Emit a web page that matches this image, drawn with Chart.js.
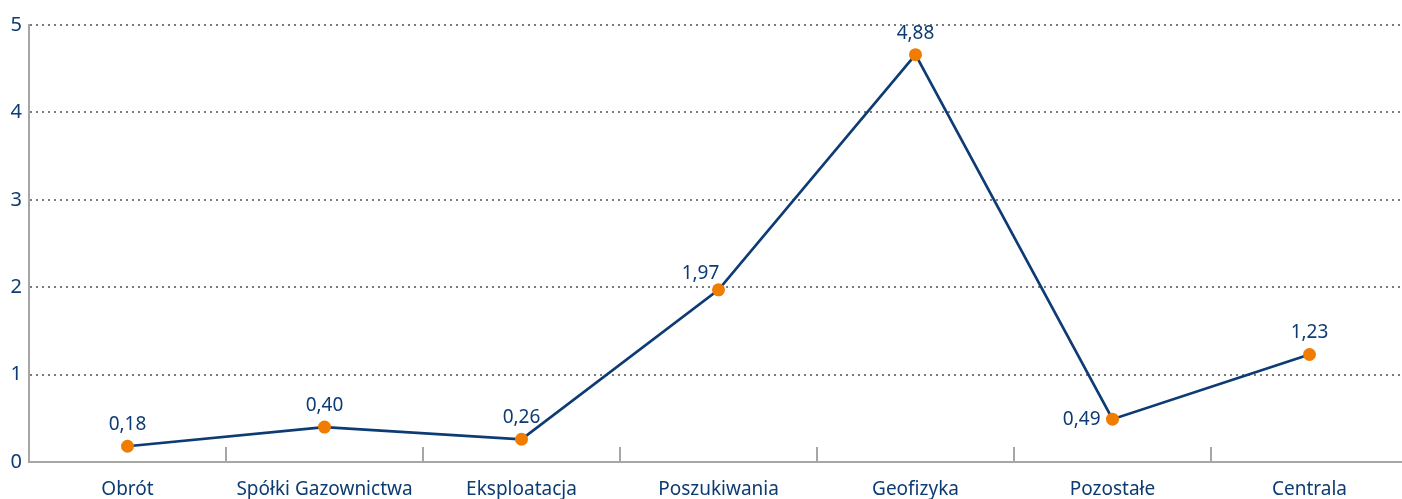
<!DOCTYPE html>
<html>
<head>
<meta charset="utf-8">
<script src="https://cdn.jsdelivr.net/npm/chart.js@4"></script>
<style>
    html, body { margin: 0; padding: 0; background: #fff; overflow: hidden; }
    #wrap { width: 1402px; height: 499px; }
    canvas { display: block; }
</style>
</head>
<body>
<div id="wrap"><canvas id="chart" width="1402" height="499"></canvas></div>
<script>
// dane
const categories = ['Obrót', 'Spółki Gazownictwa', 'Eksploatacja', 'Poszukiwania', 'Geofizyka', 'Pozostałe', 'Centrala'];
// wysokość punktów tak jak na rysunku (Geofizyka narysowana ok. 4,66)
const values = [0.18, 0.40, 0.26, 1.97, 4.66, 0.49, 1.23];
// etykiety wartości wydrukowane na wykresie
const valueLabels = ['0,18', '0,40', '0,26', '1,97', '4,88', '0,49', '1,23'];
const yTicks = [0, 1, 2, 3, 4, 5];

const navy = '#0d3b73';
const orange = '#f07d00';
const axisGrey = '#a6a6a6';

// obszar wykresu sięga do prawej krawędzi (i trochę za nią)
const stretchRightPlugin = {
    id: 'stretchRight',
    afterLayout(chart) {
        const right = chart.width + 6;
        chart.chartArea.right = right;
        chart.chartArea.width = right - chart.chartArea.left;
        const x = chart.scales.x;
        x.right = right;
        x.width = right - x.left;
        x.configure();
    }
};

// etykiety wartości przy punktach
const valueLabelPlugin = {
    id: 'valueLabels',
    afterDatasetsDraw(chart) {
        const ctx = chart.ctx;
        const meta = chart.getDatasetMeta(0);
        ctx.save();
        ctx.font = '19px "Noto Sans"';
        ctx.fillStyle = navy;
        meta.data.forEach((pt, i) => {
            const place = chart.options.plugins.valueLabels.place[i] || 'top';
            if (place === 'left') {
                ctx.textAlign = 'right';
                ctx.textBaseline = 'middle';
                ctx.fillText(valueLabels[i], pt.x - 12, pt.y);
            } else if (place === 'topLeft') {
                ctx.textAlign = 'center';
                ctx.textBaseline = 'bottom';
                ctx.fillText(valueLabels[i], pt.x - 18, pt.y - 7);
            } else {
                ctx.textAlign = 'center';
                ctx.textBaseline = 'bottom';
                ctx.fillText(valueLabels[i], pt.x, pt.y - 12);
            }
        });
        ctx.restore();
    }
};

// krótkie kreski między kategoriami, skierowane do góry
const categoryTicksPlugin = {
    id: 'categoryTicks',
    beforeDatasetsDraw(chart) {
        const x = chart.scales.x;
        const bottom = chart.chartArea.bottom;
        const ctx = chart.ctx;
        ctx.save();
        ctx.strokeStyle = axisGrey;
        ctx.lineWidth = 2;
        for (let i = 0; i < categories.length - 1; i++) {
            const px = Math.round((x.getPixelForValue(i) + x.getPixelForValue(i + 1)) / 2);
            ctx.beginPath();
            ctx.moveTo(px, bottom);
            ctx.lineTo(px, bottom - 15);
            ctx.stroke();
        }
        ctx.restore();
    }
};

const ctx = document.getElementById('chart').getContext('2d');
new Chart(ctx, {
    type: 'line',
    data: {
        labels: categories,
        datasets: [{
            data: values,
            borderColor: navy,
            borderWidth: 2.7,
            pointRadius: 6.5,
            pointHoverRadius: 6.5,
            pointBackgroundColor: orange,
            pointBorderWidth: 0,
            tension: 0,
            clip: false
        }]
    },
    options: {
        responsive: false,
        animation: false,
        layout: {
            padding: { top: 25, right: 0, left: 0, bottom: 0 }
        },
        scales: {
            x: {
                offset: true,
                afterFit(scale) {
                    scale.paddingRight = 0;
                    scale.paddingLeft = 0;
                    scale.height = 37;
                },
                grid: { display: false, drawTicks: false },
                border: { display: true, color: axisGrey, width: 2 },
                ticks: {
                    color: navy,
                    padding: 16,
                    font: { family: 'Noto Sans', size: 19 },
                    maxRotation: 0,
                    autoSkip: false
                }
            },
            y: {
                min: 0,
                max: 5,
                afterFit(scale) { scale.width = 29; },
                afterBuildTicks(scale) { scale.ticks = yTicks.map(v => ({ value: v })); },
                grid: {
                    color: '#7a7a7a',
                    lineWidth: 2,
                    drawTicks: false
                },
                border: { display: true, color: axisGrey, width: 2, dash: [2, 4] },
                ticks: {
                    color: navy,
                    padding: 7,
                    font: { family: 'Noto Sans', size: 20 },
                    callback: v => String(v)
                }
            }
        },
        plugins: {
            legend: { display: false },
            tooltip: { enabled: false },
            valueLabels: { place: { 3: 'topLeft', 5: 'left' } }
        }
    },
    plugins: [stretchRightPlugin, categoryTicksPlugin, valueLabelPlugin]
});
</script>
</body>
</html>
